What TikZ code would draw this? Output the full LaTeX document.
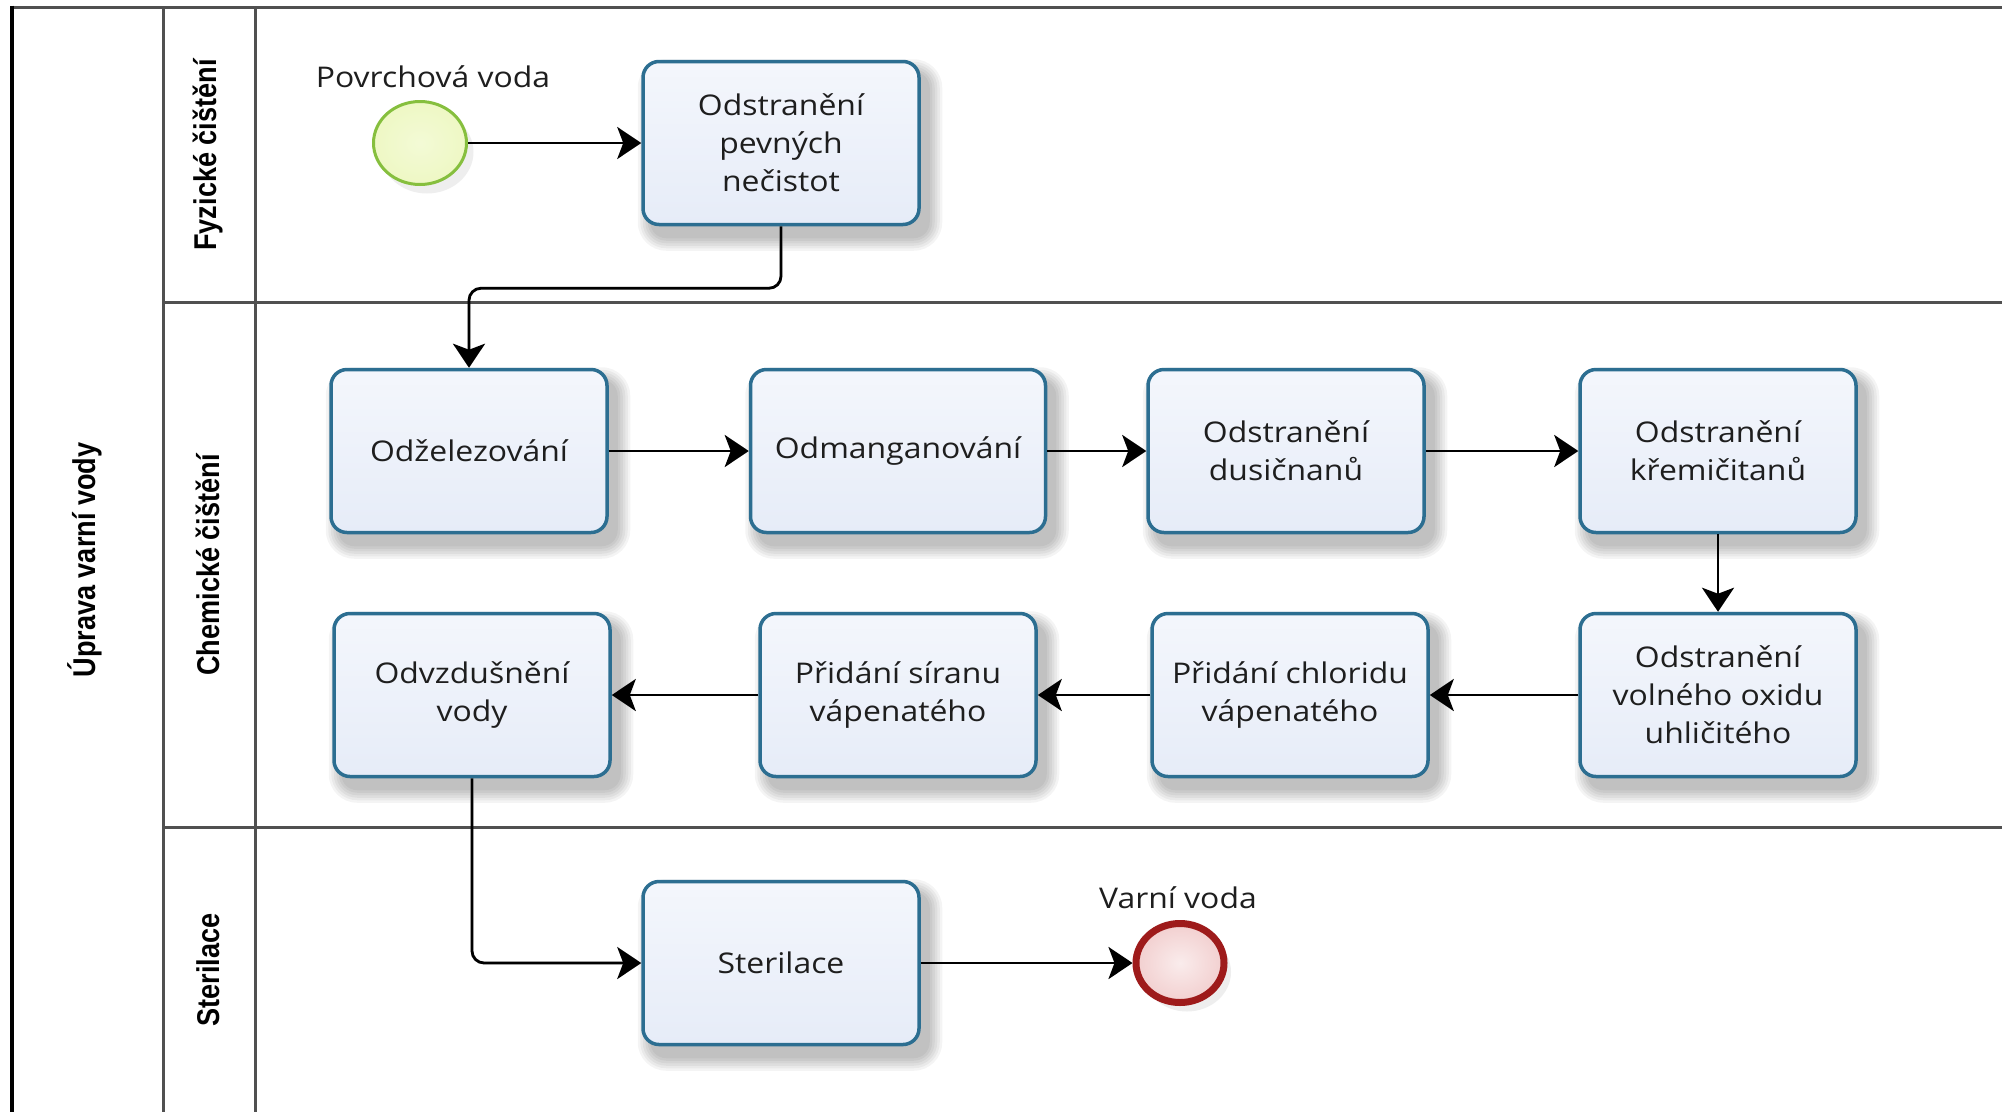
\documentclass[tikz,border=0pt]{standalone}
\usepackage{fontspec}
\usetikzlibrary{arrows.meta,shadows,calc,shapes.geometric}
\newfontfamily\taskfont[FakeStretch=1.12]{Open Sans}
\newfontfamily\lanefont[FakeStretch=0.86]{Liberation Sans Bold}
\definecolor{taskborder}{HTML}{2C6E91}
\definecolor{taskfill}{HTML}{E6ECF8}
\definecolor{startborder}{HTML}{86BF3E}
\definecolor{startfill}{HTML}{EEF8C4}
\definecolor{endborder}{HTML}{9E1B1B}
\definecolor{endfill}{HTML}{F2CFCF}
\definecolor{poolline}{HTML}{505050}
\definecolor{textc}{HTML}{1E1E1E}
\pgfdeclarelayer{bglayer}
\pgfdeclarelayer{shlayer}
\pgfsetlayers{bglayer,shlayer,main}
\tikzset{
  evshadow/.style={drop shadow={opacity=0.13, shadow xshift=7pt, shadow yshift=-9pt}},
  task/.style={draw=taskborder, line width=3.5pt, rounded corners=16pt,
    top color=white!55!taskfill, bottom color=taskfill,
    minimum width=276pt, minimum height=163pt, align=center,
    font=\taskfont\fontsize{28.5}{38}\selectfont, text=textc},
  startev/.style={ellipse, draw=startborder, line width=3pt,
    inner color=startfill!70!white, outer color=startfill,
    minimum width=93pt, minimum height=83pt, inner sep=0pt, evshadow},
  endev/.style={ellipse, draw=endborder, line width=7pt,
    inner color=endfill!40!white, outer color=endfill,
    minimum width=88pt, minimum height=79pt, inner sep=0pt, evshadow},
  evlabel/.style={font=\taskfont\fontsize{28.5}{38}\selectfont, text=textc},
  lanelabel/.style={font=\lanefont\fontsize{31.5}{36}\selectfont, rotate=90, text=black},
  flow/.style={draw=black, line width=2.8pt, -{Stealth[length=24pt,width=32pt,inset=6pt]}},
  flowshadow/.style={draw=black!10, line width=2.8pt, -{Stealth[length=24pt,width=32pt,inset=6pt]},
    shift={(30pt,-26pt)}},
  shadowlayer/.style={fill=black, opacity=0.045},
  lane/.style={draw=poolline, line width=2.5pt},
}
\begin{document}
\begin{tikzpicture}[x=1pt,y=-1pt]
\useasboundingbox (0,0) rectangle (2002,1112);
\begin{pgfonlayer}{bglayer}
\fill[white] (0,0) rectangle (2002,1112);
\end{pgfonlayer}
% pool and lanes
\draw[lane] (12,7.7) -- (2002,7.7);
\draw[lane] (163.4,7.7) -- (163.4,1112);
\draw[lane] (255.4,7.7) -- (255.4,1112);
\draw[lane] (163.4,302.6) -- (2002,302.6);
\draw[lane] (163.4,827.4) -- (2002,827.4);
\draw[black, line width=4pt] (12,5.7) -- (12,1112);
\node[lanelabel] (pool) at (85,560) {Úprava varní vody};
\node[lanelabel] (l1) at (208,155) {Fyzické čištění};
\node[lanelabel] (l2) at (208,565) {Chemické čištění};
\node[lanelabel] (l3) at (208,970) {Sterilace};
% events
\node[startev] (start) at (420,143) {};
\node[evlabel] (startlbl) at (433,77) {Povrchová voda};
\node[endev] (end) at (1180,963) {};
\node[evlabel] (endlbl) at (1178,898) {Varní voda};
% tasks
\node[task] (t1) at (781,143) {Odstranění\\pevných\\nečistot};
\node[task] (od) at (469,451) {Odželezování};
\node[task, minimum width=295pt] (om) at (898,451) {Odmanganování};
\node[task] (du) at (1286,451) {Odstranění\\dusičnanů};
\node[task] (kr) at (1718,451) {Odstranění\\křemičitanů};
\node[task] (ox) at (1718,695) {Odstranění\\volného oxidu\\uhličitého};
\node[task] (ch) at (1290,695) {Přidání chloridu\\vápenatého};
\node[task] (si) at (898,695) {Přidání síranu\\vápenatého};
\node[task] (ov) at (472,695) {Odvzdušnění\\vody};
\node[task] (st) at (781,963) {Sterilace};
% soft task shadows and faint connector shadows
\begin{pgfonlayer}{shlayer}
\foreach \n in {t1,od,om,du,kr,ox,ch,si,ov,st}{
  \foreach \k in {0,...,5}{
    \fill[shadowlayer, rounded corners=16pt+\k*2.5pt]
      ($(\n.south west)+(9pt-\k*2.5pt,-12pt-\k*2.5pt)$) rectangle
      ($(\n.north east)+(9pt+\k*2.5pt,-12pt+\k*2.5pt)$);
  }
}
\draw[flowshadow, rounded corners=12pt] (t1.south) -- ++(0,62) -| (od.north);
\draw[flowshadow] (od) -- (om);
\draw[flowshadow] (om) -- (du);
\draw[flowshadow] (du) -- (kr);
\draw[flowshadow] (kr) -- (ox);
\draw[flowshadow] (ox) -- (ch);
\draw[flowshadow] (ch) -- (si);
\draw[flowshadow] (si) -- (ov);
\draw[flowshadow, rounded corners=12pt] (ov.south) |- (st.west);
\draw[flowshadow] (st) -- (end);
\end{pgfonlayer}
% flows
\draw[flow] (start) -- (t1);
\draw[flow, rounded corners=12pt] (t1.south) -- ++(0,62) -| (od.north);
\draw[flow] (od) -- (om);
\draw[flow] (om) -- (du);
\draw[flow] (du) -- (kr);
\draw[flow] (kr) -- (ox);
\draw[flow] (ox) -- (ch);
\draw[flow] (ch) -- (si);
\draw[flow] (si) -- (ov);
\draw[flow, rounded corners=12pt] (ov.south) |- (st.west);
\draw[flow] (st) -- (end);
\end{tikzpicture}
\end{document}
